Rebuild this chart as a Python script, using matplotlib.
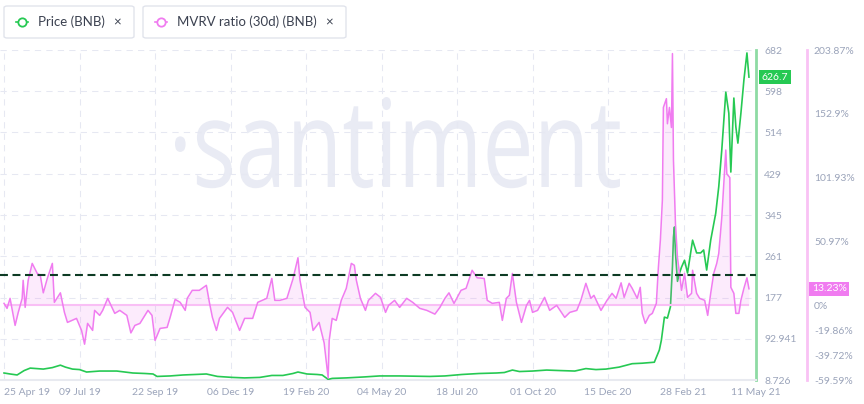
import numpy as np
import pandas as pd
import matplotlib
matplotlib.use('Agg')
import matplotlib.pyplot as plt
import matplotlib.transforms as mtransforms
from matplotlib.patches import FancyBboxPatch, PathPatch
from matplotlib.lines import Line2D
from matplotlib.textpath import TextPath
from matplotlib.font_manager import FontProperties

# --- data ---
price_dates = ['2019-04-25', '2019-05-01', '2019-05-08', '2019-05-15', '2019-05-21', '2019-06-03',
               '2019-06-12', '2019-06-20', '2019-06-25', '2019-07-02', '2019-07-09', '2019-07-16',
               '2019-07-29', '2019-08-15', '2019-08-31', '2019-09-12', '2019-09-20', '2019-09-24',
               '2019-10-07', '2019-10-20', '2019-11-01', '2019-11-12', '2019-11-23', '2019-12-08',
               '2019-12-20', '2020-01-04', '2020-01-16', '2020-01-27', '2020-02-06', '2020-02-11',
               '2020-02-20', '2020-03-01', '2020-03-06', '2020-03-12', '2020-03-16', '2020-03-30',
               '2020-04-17', '2020-05-02', '2020-05-22', '2020-06-21', '2020-07-06', '2020-07-23',
               '2020-08-09', '2020-08-26', '2020-09-03', '2020-09-11', '2020-09-18', '2020-10-01',
               '2020-10-15', '2020-10-28', '2020-11-12', '2020-11-23', '2020-12-03', '2020-12-13',
               '2020-12-26', '2021-01-08', '2021-01-18', '2021-01-30', '2021-02-04', '2021-02-06',
               '2021-02-09', '2021-02-12', '2021-02-15', '2021-02-17', '2021-02-18', '2021-02-19',
               '2021-02-20', '2021-02-22', '2021-02-24', '2021-02-26', '2021-03-01', '2021-03-04',
               '2021-03-09', '2021-03-13', '2021-03-17', '2021-03-20', '2021-03-23', '2021-03-27',
               '2021-04-01', '2021-04-04', '2021-04-07', '2021-04-11', '2021-04-14', '2021-04-16',
               '2021-04-19', '2021-04-21', '2021-04-23', '2021-04-26', '2021-04-29', '2021-05-02',
               '2021-05-04']
price = [23, 21, 19, 28, 33, 31,
         34, 39, 35, 31, 30, 25,
         27, 27, 23, 22, 21, 16,
         17, 19, 20, 21, 16, 14,
         13, 14, 18, 18, 22, 25,
         21, 20, 19, 10, 12, 13,
         15, 17, 17, 16, 17, 20,
         22, 23, 24, 29, 26, 27,
         29, 28, 27, 32, 30, 31,
         35, 42, 43, 45, 70, 90,
         137, 135, 158, 240, 300, 321,
         268, 210, 227, 239, 253, 227,
         294, 268, 268, 274, 233, 294,
         349, 403, 478, 596, 553, 433,
         584, 525, 492, 553, 621, 676,
         626.7]

mvrv_dates = ['2019-04-25', '2019-04-28', '2019-05-01', '2019-05-06', '2019-05-09', '2019-05-13',
              '2019-05-14', '2019-05-16', '2019-05-19', '2019-05-23', '2019-05-28', '2019-05-31',
              '2019-06-03', '2019-06-07', '2019-06-12', '2019-06-14', '2019-06-20', '2019-06-24',
              '2019-06-27', '2019-07-06', '2019-07-11', '2019-07-14', '2019-07-17', '2019-07-22',
              '2019-07-24', '2019-07-29', '2019-08-01', '2019-08-06', '2019-08-13', '2019-08-18',
              '2019-08-25', '2019-08-29', '2019-09-02', '2019-09-07', '2019-09-15', '2019-09-19',
              '2019-09-22', '2019-09-27', '2019-10-04', '2019-10-07', '2019-10-12', '2019-10-17',
              '2019-10-22', '2019-10-24', '2019-10-29', '2019-11-05', '2019-11-12', '2019-11-15',
              '2019-11-18', '2019-11-22', '2019-11-25', '2019-12-03', '2019-12-08', '2019-12-15',
              '2019-12-20', '2019-12-28', '2020-01-02', '2020-01-11', '2020-01-16', '2020-01-19',
              '2020-01-24', '2020-01-31', '2020-02-06', '2020-02-11', '2020-02-13', '2020-02-18',
              '2020-02-23', '2020-02-26', '2020-03-03', '2020-03-08', '2020-03-12', '2020-03-13',
              '2020-03-16', '2020-03-20', '2020-03-25', '2020-03-30', '2020-04-04', '2020-04-07',
              '2020-04-09', '2020-04-13', '2020-04-18', '2020-04-21', '2020-04-28', '2020-05-03',
              '2020-05-08', '2020-05-11', '2020-05-17', '2020-05-22', '2020-05-29', '2020-06-04',
              '2020-06-11', '2020-06-18', '2020-06-26', '2020-07-01', '2020-07-06', '2020-07-10',
              '2020-07-15', '2020-07-22', '2020-07-27', '2020-08-02', '2020-08-07', '2020-08-14',
              '2020-08-17', '2020-08-22', '2020-08-29', '2020-09-01', '2020-09-05', '2020-09-08',
              '2020-09-11', '2020-09-15', '2020-09-20', '2020-09-25', '2020-09-28', '2020-10-01',
              '2020-10-06', '2020-10-13', '2020-10-18', '2020-10-25', '2020-11-02', '2020-11-07',
              '2020-11-14', '2020-11-18', '2020-11-23', '2020-11-28', '2020-12-01', '2020-12-08',
              '2020-12-14', '2020-12-19', '2020-12-23', '2020-12-28', '2020-12-31', '2021-01-05',
              '2021-01-08', '2021-01-13', '2021-01-16', '2021-01-18', '2021-01-21', '2021-01-25',
              '2021-01-28', '2021-02-01', '2021-02-03', '2021-02-05', '2021-02-07', '2021-02-08',
              '2021-02-11', '2021-02-12', '2021-02-14', '2021-02-16', '2021-02-17', '2021-02-18',
              '2021-02-19', '2021-02-20', '2021-02-22', '2021-02-24', '2021-02-26', '2021-03-01',
              '2021-03-04', '2021-03-08', '2021-03-09', '2021-03-13', '2021-03-16', '2021-03-21',
              '2021-03-24', '2021-03-27', '2021-03-30', '2021-04-02', '2021-04-04', '2021-04-07',
              '2021-04-11', '2021-04-12', '2021-04-15', '2021-04-16', '2021-04-19', '2021-04-21',
              '2021-04-24', '2021-04-26', '2021-04-29', '2021-05-02', '2021-05-04']
mvrv = [1.6, -2.4, 5.6, -16, -6, 5.6,
        20, -1.6, 20, 33.5, 25.5, 24,
        10, 21.5, 33.5, 2.4, 10, -5.6,
        -13.6, -10.4, -20, -31, -14.4, -20,
        -4, -8, -4, 5.6, -6.4, -4,
        -8, -22, -16, -14.4, -4, -8,
        -28, -18.4, -17.6, -9.6, 4.8, 2.4,
        -4, 5.6, 12, 12, 16, 2.4,
        -9.6, -20, -10.4, -1.6, -5.6, -20,
        -10.4, -10.4, 2.4, 5.6, 21.5, 4,
        4, 5.6, 21, 38, 20, -1.6,
        -5.6, -20, -13.6, -30, -58, -28,
        -10.4, -12, 4, 13.6, 33.5, 32,
        20, 5.6, -4, 4, 9.6, 6.4,
        -5.6, 0, 4, -1.6, 5.6, 2.4,
        -2.4, -4, -7, -1.6, 5.6, 10,
        1.6, 12, 13.6, 28, 22, 21.5,
        4, 1.6, 2.4, -12, 5.6, 8,
        25.5, 2.4, -13.6, 0, 4, -5.6,
        -4, 6.4, -4, 0, -9.6, -5.6,
        -4, 4, 17.6, 5.6, 8, -4,
        4, 9.6, 5.6, 18, 6.4, 17.6,
        13.6, 5.6, 14.4, -6.4, -14.4, -8,
        -6.4, 1.6, 30, 52, 84, 158,
        165, 145, 158, 142, 201, 116,
        90, 65, 38, 25.5, 12, 25.5,
        6.4, 9.6, 28, 9.6, 5.6, 4,
        -8, 9.6, 25.5, 33.5, 41.5, 70,
        124, 105, 102, 14.4, 9.6, -6.4,
        -6.4, 4, 13.6, 22, 13.23]

mvrv_level = 24  # dashed reference line

date_ticks = ['2019-04-25', '2019-07-09', '2019-09-22', '2019-12-06', '2020-02-19', '2020-05-04',
              '2020-07-18', '2020-10-01', '2020-12-15', '2021-02-28', '2021-05-11']
date_labels = ['25 Apr 19', '09 Jul 19', '22 Sep 19', '06 Dec 19', '19 Feb 20', '04 May 20',
               '18 Jul 20', '01 Oct 20', '15 Dec 20', '28 Feb 21', '11 May 21']
price_ticks = [8.726, 92.941, 177, 261, 345, 429, 514, 598, 682]
price_labels = ['8.726', '92.941', '177', '261', '345', '429', '514', '598', '682']
mvrv_ticks = [-59.59, -39.72, -19.86, 0, 50.97, 101.93, 152.9, 203.87]
mvrv_labels = ['-59.59%', '-39.72%', '-19.86%', '0%', '50.97%', '101.93%', '152.9%', '203.87%']

GREEN = '#26c953'
PINK = '#f07cf0'
TICK = '#9ba4ba'
GRID = '#e6e8f2'

plt.rcParams['font.family'] = ['Lato', 'DejaVu Sans']

W, H = 864, 404
fig = plt.figure(figsize=(W / 100, H / 100), dpi=100)
ax = fig.add_axes([0, 24 / H, 756 / W, 330 / H])
ax2 = ax.twinx()

pd_price = pd.to_datetime(price_dates)
pd_mvrv = pd.to_datetime(mvrv_dates)

# watermark, squeezed into the box it takes in the reference
tp = TextPath((0, 0), '·santiment', size=100, prop=FontProperties(family='Open Sans'))
ext = tp.get_extents()
sx = (620 - 175) / ext.width
sy = (187 - 97) / ext.y1
wm_tr = (mtransforms.Affine2D().translate(-ext.x0, 0).scale(sx / W, sy / H)
         .translate(175 / W, (H - 187) / H) + fig.transFigure)
wm = PathPatch(tp, transform=wm_tr, fc='#e9ebf4', ec='none', zorder=0.1, clip_on=False)
ax.add_artist(wm)

ax.plot(pd_price, price, color=GREEN, lw=1.2, zorder=3)
ax.set_ylim(8.726, 682)
ax.set_xlim(pd.Timestamp('2019-04-21'), pd.Timestamp('2021-05-11'))

ax2.fill_between(pd_mvrv, mvrv, 0, color=PINK, alpha=0.15, lw=0)
ax2.hlines(0, pd_mvrv[0], pd_mvrv[-1], color='#f9bff5', lw=1.5)
ax2.plot(pd_mvrv, mvrv, color=PINK, lw=1.1)
ax2.axhline(mvrv_level, color='#0d3b24', lw=1.5, ls=(0, (3.8, 2.2)))
ax2.set_ylim(-59.59, 203.87)

# axes styling
ax.set_xticks(pd.to_datetime(date_ticks))
ax.set_xticklabels(date_labels)
ax.get_xticklabels()[0].set_ha('left')
ax.set_yticks(price_ticks)
ax.set_yticklabels(price_labels)
ax.yaxis.tick_right()
ax.tick_params(axis='both', length=0, labelsize=7.5, labelcolor=TICK)
ax.tick_params(axis='x', pad=6)
ax.tick_params(axis='y', pad=6)
ax.grid(True, color=GRID, lw=0.75, ls=(0, (6, 5)))
for s in ['left', 'top']:
    ax.spines[s].set_visible(False)
ax.spines['right'].set_color('#8edba4')
ax.spines['right'].set_linewidth(2)
ax.spines['bottom'].set_color('#e8eaf0')
ax.spines['bottom'].set_linewidth(1.5)

ax2.set_yticks(mvrv_ticks)
ax2.set_yticklabels(mvrv_labels)
ax2.tick_params(axis='y', length=0, labelsize=7.5, labelcolor=TICK, pad=5)
for s in ['left', 'top', 'bottom']:
    ax2.spines[s].set_visible(False)
ax2.spines['right'].set_position(('outward', 51 * 0.72))
ax2.spines['right'].set_color('#f9c2f4')
ax2.spines['right'].set_linewidth(2)

# last value badges
tr1 = mtransforms.blended_transform_factory(ax.transAxes, ax.transData)
ax.text(1 + 6 / 756, price[-1], '626.7', transform=tr1, ha='left', va='center', color='white',
        fontsize=7.5, bbox=dict(boxstyle='square,pad=0.25', fc=GREEN, ec='none'), clip_on=False)
tr2 = mtransforms.blended_transform_factory(ax2.transAxes, ax2.transData)
ax2.text(1 + 56 / 756, mvrv[-1], '13.23%', transform=tr2, ha='left', va='center', color='white',
         fontsize=7.5, bbox=dict(boxstyle='square,pad=0.25', fc=PINK, ec='none'), clip_on=False)

# legend chips
def chip(x0, x1, color, label):
    fig.patches.append(FancyBboxPatch((x0 / W, 1 - 38 / H), (x1 - x0) / W, 32 / H,
                                      boxstyle='round,pad=0,rounding_size=0.004',
                                      transform=fig.transFigure, fc='white', ec='#e1e4ec', lw=1))
    yc = 1 - 22 / H
    fig.lines.append(Line2D([(x0 + 12) / W, (x0 + 18) / W, (x0 + 24) / W], [yc, yc, yc],
                            transform=fig.transFigure, color=color, lw=1.2, marker='o',
                            markevery=[1], ms=6, mfc='white', mec=color, mew=1.3))
    fig.text((x0 + 34) / W, yc, label, ha='left', va='center', fontsize=9.5, color='#3b4150')
    fig.text((x1 - 17) / W, yc, '×', ha='center', va='center', fontsize=9.5, color='#3b4150')

chip(4, 134, GREEN, 'Price (BNB)')
chip(143, 346, PINK, 'MVRV ratio (30d) (BNB)')

fig.savefig('out.png', dpi=100)
